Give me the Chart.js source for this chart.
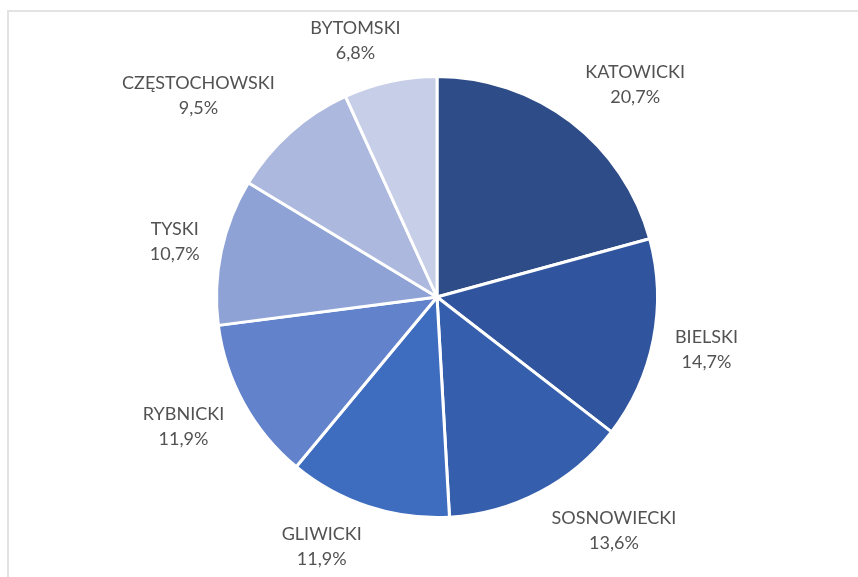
<!DOCTYPE html>
<html>
<head>
<meta charset="utf-8">
<script src="https://cdn.jsdelivr.net/npm/chart.js@4/dist/chart.umd.min.js"></script>
<style>
  html, body { margin: 0; padding: 0; background: #fff; overflow: hidden; }
  #frame {
    position: absolute; left: 7px; top: 10px; width: 900px; height: 620px;
    border: 2px solid #e3e3e3; box-sizing: border-box;
  }
  #chart { position: absolute; left: 0; top: 0; }
</style>
</head>
<body>
<div id="frame"></div>
<canvas id="chart" width="858" height="577"></canvas>
<script>
// --- DATA ---
const regions = ['KATOWICKI', 'BIELSKI', 'SOSNOWIECKI', 'GLIWICKI', 'RYBNICKI', 'TYSKI', 'CZĘSTOCHOWSKI', 'BYTOMSKI'];
const shares = [20.7, 14.7, 13.6, 11.9, 11.9, 10.7, 9.5, 6.8];
const sliceColors = ['#2e4c87', '#30559e', '#355fad', '#3e6dbf', '#6282cb', '#8fa2d6', '#acb8de', '#c7cee7'];

const clamp = (v) => Math.max(-1, Math.min(1, v));

// Excel-like "outside end" labels: the box corner sits on the mid-angle ray just outside the arc
const outsideLabels = {
  id: 'outsideLabels',
  afterDatasetsDraw(chart) {
    const ctx = chart.ctx;
    const meta = chart.getDatasetMeta(0);
    const total = shares.reduce((a, b) => a + b, 0);
    ctx.save();
    ctx.font = '18px Lato';
    ctx.fillStyle = '#525252';
    ctx.textAlign = 'center';
    ctx.textBaseline = 'middle';
    const lineGap = 25;
    meta.data.forEach((arc, i) => {
      const mid = (arc.startAngle + arc.endAngle) / 2;
      const ux = Math.cos(mid), uy = Math.sin(mid);
      const d = arc.outerRadius + 19;
      const ax = arc.x + ux * d, ay = arc.y + uy * d;
      const pct = (shares[i] / total * 100).toFixed(1).replace('.', ',') + '%';
      const w = Math.max(ctx.measureText(regions[i]).width, ctx.measureText(pct).width) / 2 + 3;
      const h = 22;
      const cx = ax + w * clamp(ux * 3);
      const cy = ay + h * clamp(uy * 1.35);
      ctx.fillText(regions[i], cx, cy - lineGap / 2);
      ctx.fillText(pct, cx, cy + lineGap / 2);
    });
    ctx.restore();
  }
};

new Chart(document.getElementById('chart'), {
  type: 'pie',
  data: {
    labels: regions,
    datasets: [{
      data: shares,
      backgroundColor: sliceColors,
      borderColor: '#ffffff',
      borderWidth: 3
    }]
  },
  options: {
    responsive: false,
    animation: false,
    layout: { padding: { left: 215, right: 199, top: 75, bottom: 58 } },
    plugins: {
      legend: { display: false },
      tooltip: { enabled: false }
    }
  },
  plugins: [outsideLabels]
});
</script>
</body>
</html>
